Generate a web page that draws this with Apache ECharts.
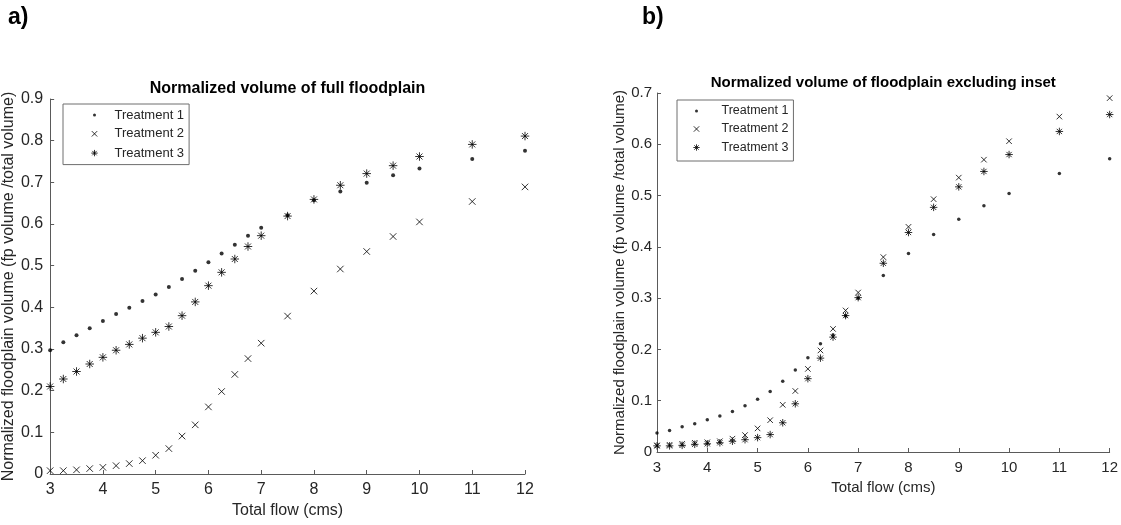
<!DOCTYPE html>
<html>
<head>
<meta charset="utf-8">
<title>Normalized floodplain volume</title>
<script src="https://cdn.jsdelivr.net/npm/echarts@6/dist/echarts.min.js"></script>
<style>
    html, body { margin: 0; padding: 0; background: #fff; }
    #chart { width: 1121px; height: 525px; }
</style>
</head>
<body>
<div id="chart"></div>
<script>
    // total flow (cms), same for both panels
    var flows = [3, 3.25, 3.5, 3.75, 4, 4.25, 4.5, 4.75, 5, 5.25, 5.5, 5.75, 6, 6.25, 6.5, 6.75, 7, 7.5, 8, 8.5, 9, 9.5, 10, 11, 12];

    // a) full floodplain
    var fullT1 = [0.297, 0.316, 0.333, 0.350, 0.367, 0.384, 0.399, 0.415, 0.431, 0.449, 0.468, 0.488, 0.508, 0.529, 0.550, 0.572, 0.591, 0.621, 0.657, 0.678, 0.699, 0.717, 0.733, 0.756, 0.776];
    var fullT2 = [0.008, 0.008, 0.010, 0.013, 0.016, 0.020, 0.025, 0.032, 0.045, 0.061, 0.091, 0.118, 0.161, 0.198, 0.239, 0.277, 0.314, 0.379, 0.439, 0.492, 0.534, 0.570, 0.605, 0.654, 0.689];
    var fullT3 = [0.210, 0.228, 0.246, 0.264, 0.280, 0.297, 0.311, 0.326, 0.340, 0.354, 0.380, 0.413, 0.452, 0.484, 0.516, 0.546, 0.572, 0.619, 0.659, 0.693, 0.721, 0.740, 0.762, 0.791, 0.811];

    // b) floodplain excluding inset
    var exclT1 = [0.037, 0.042, 0.049, 0.055, 0.063, 0.070, 0.079, 0.090, 0.103, 0.118, 0.138, 0.160, 0.184, 0.211, 0.228, 0.265, 0.300, 0.344, 0.387, 0.424, 0.454, 0.480, 0.504, 0.543, 0.572];
    var exclT2 = [0.013, 0.014, 0.016, 0.018, 0.019, 0.021, 0.026, 0.033, 0.046, 0.062, 0.092, 0.119, 0.162, 0.198, 0.240, 0.276, 0.311, 0.380, 0.439, 0.493, 0.535, 0.570, 0.606, 0.654, 0.690];
    var exclT3 = [0.012, 0.012, 0.013, 0.015, 0.016, 0.018, 0.021, 0.024, 0.028, 0.034, 0.057, 0.094, 0.143, 0.183, 0.224, 0.266, 0.301, 0.368, 0.428, 0.477, 0.517, 0.547, 0.580, 0.625, 0.658];

    var names = ['Treatment 1', 'Treatment 2', 'Treatment 3'];
    var yName = 'Normalized floodplain volume (fp volume /total volume)';
    var xName = 'Total flow (cms)';

    var font = "'Liberation Sans', Arial, sans-serif";
    var ink = '#262626';
    var axisGray = '#5a5a5a';

    // matlab style markers: x and *
    var crossPath = 'path://M0,0L8,8M8,0L0,8';
    var starPath = 'path://M4,0L4,8M0,4L8,4M1.2,1.2L6.8,6.8M6.8,1.2L1.2,6.8';
    // legend icons padded to a 10x14 box so they keep their own size
    var dotIcon = 'path://M0,0M10,14M5,5.5A1.5,1.5,0,1,1,5,8.5A1.5,1.5,0,1,1,5,5.5Z';
    var crossIcon = 'path://M0,0M10,14M2.3,4.3L7.7,9.7M7.7,4.3L2.3,9.7';
    var starIcon = 'path://M0,0M10,14M5,3.8L5,10.2M1.8,7L8.2,7M2.8,4.8L7.2,9.2M7.2,4.8L2.8,9.2';

    function pairs(xs, ys) {
        return xs.map(function (x, i) { return [x, ys[i]]; });
    }

    function makeAxes(idx, ymax, fs) {
        var x = {
            type: 'value', gridIndex: idx, min: 3, max: 12, interval: 1,
            name: xName, nameLocation: 'middle', nameGap: 27,
            nameTextStyle: { fontFamily: font, fontSize: fs, color: ink },
            axisLine: { show: true, lineStyle: { color: axisGray, width: 1 } },
            axisTick: { show: true, inside: true, length: 4, lineStyle: { color: axisGray } },
            axisLabel: { fontFamily: font, fontSize: fs, color: ink, margin: 8 },
            splitLine: { show: false }
        };
        var y = {
            type: 'value', gridIndex: idx, min: 0, max: ymax, interval: 0.1,
            name: yName, nameLocation: 'middle', nameGap: 30,
            nameTextStyle: { fontFamily: font, fontSize: fs, color: ink },
            axisLine: { show: true, lineStyle: { color: axisGray, width: 1 } },
            axisTick: { show: true, inside: true, length: 4, lineStyle: { color: axisGray } },
            axisLabel: { fontFamily: font, fontSize: fs, color: ink, margin: idx === 0 ? 7 : 5 },
            splitLine: { show: false }
        };
        return [x, y];
    }

    function makeSeries(idx, t1, t2, t3, s) {
        return [
            {
                name: names[0], type: 'scatter', xAxisIndex: idx, yAxisIndex: idx,
                symbol: 'circle', symbolSize: s.dot,
                itemStyle: { color: '#000' },
                data: pairs(flows, t1)
            },
            {
                name: names[1], type: 'scatter', xAxisIndex: idx, yAxisIndex: idx,
                symbol: crossPath, symbolSize: s.cross,
                itemStyle: { color: 'transparent', borderColor: '#000', borderWidth: 1 },
                data: pairs(flows, t2)
            },
            {
                name: names[2], type: 'scatter', xAxisIndex: idx, yAxisIndex: idx,
                symbol: starPath, symbolSize: s.star,
                itemStyle: { color: 'transparent', borderColor: '#000', borderWidth: 1 },
                data: pairs(flows, t3)
            }
        ];
    }

    function makeLegend(left, top, pad, textPad, fs, gap) {
        return {
            orient: 'vertical', left: left, top: top,
            padding: pad, itemGap: gap,
            itemWidth: 10, itemHeight: 14,
            borderColor: '#6e6e6e', borderWidth: 1, borderRadius: 0,
            backgroundColor: '#fff',
            textStyle: { fontFamily: font, fontSize: fs, color: ink, lineHeight: 14, padding: [0, 0, 0, textPad] },
            data: [
                { name: names[0], icon: dotIcon, itemStyle: { color: '#000', borderWidth: 0 } },
                { name: names[1], icon: crossIcon, itemStyle: { color: 'transparent', borderColor: '#000', borderWidth: 1 } },
                { name: names[2], icon: starIcon, itemStyle: { color: 'transparent', borderColor: '#000', borderWidth: 1 } }
            ]
        };
    }

    var axesA = makeAxes(0, 0.9, 16);
    var axesB = makeAxes(1, 0.7, 15);

    var chart = echarts.init(document.getElementById('chart'), null, { renderer: 'canvas' });
    chart.setOption({
        animation: false,
        backgroundColor: '#fff',
        title: [
            { text: 'a)', left: 8, top: 6, padding: 0, textStyle: { fontFamily: font, fontSize: 23, fontWeight: 'bold', color: '#000' } },
            { text: 'b)', left: 642, top: 6, padding: 0, textStyle: { fontFamily: font, fontSize: 23, fontWeight: 'bold', color: '#000' } },
            { text: 'Normalized volume of full floodplain', left: 287.5, top: 81, padding: 0, textAlign: 'center',
              textStyle: { fontFamily: font, fontSize: 16, fontWeight: 'bold', color: '#000' } },
            { text: 'Normalized volume of floodplain excluding inset', left: 883.3, top: 75, padding: 0, textAlign: 'center',
              textStyle: { fontFamily: font, fontSize: 15, fontWeight: 'bold', color: '#000' } }
        ],
        legend: [
            makeLegend(63, 104, [4, 5, 4, 26], 10, 13, 4.3),
            makeLegend(677, 100, [4, 5, 6, 14], 15, 12.5, 3.5)
        ],
        grid: [
            { left: 50, top: 99, width: 475, height: 375 },
            { left: 657, top: 93, width: 453, height: 359 }
        ],
        xAxis: [axesA[0], axesB[0]],
        yAxis: [axesA[1], axesB[1]],
        series: makeSeries(0, fullT1, fullT2, fullT3, { dot: 4, cross: 6.5, star: 8.5 })
            .concat(makeSeries(1, exclT1, exclT2, exclT3, { dot: 3.5, cross: 5.5, star: 7.5 }))
    });
</script>
</body>
</html>
